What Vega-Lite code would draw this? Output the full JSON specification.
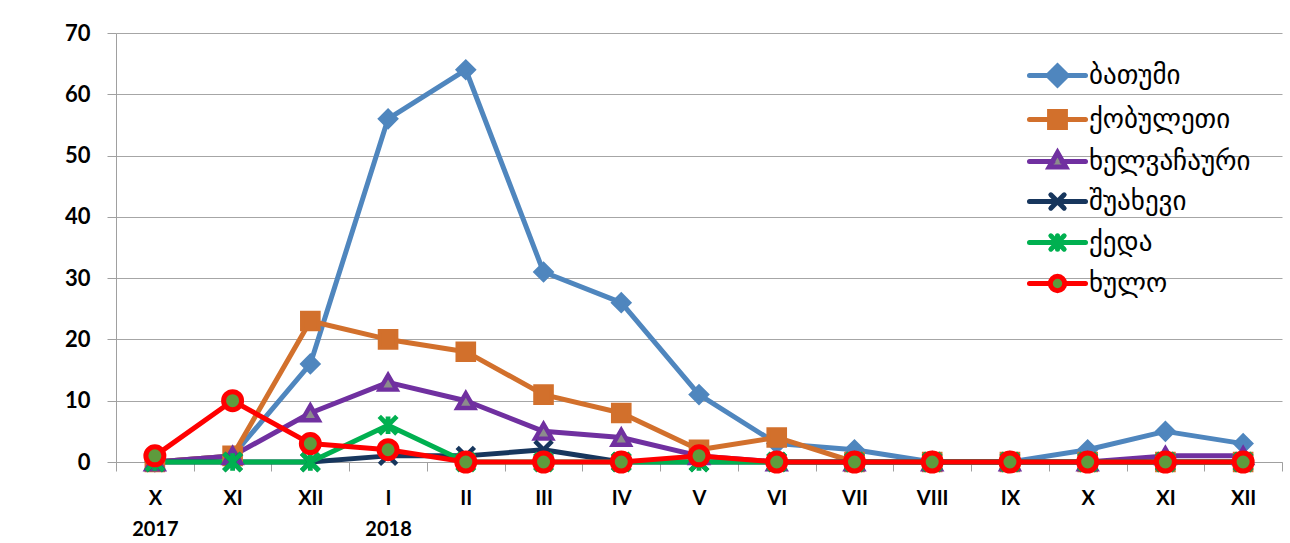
{
  "$schema": "https://vega.github.io/schema/vega-lite/v6.json",
  "width": 1166,
  "height": 429,
  "autosize": {"type": "none"},
  "padding": {"left": 116, "top": 33, "right": 8, "bottom": 81},
  "background": "white",
  "config": {"view": {"stroke": null}, "font": "Lato"},
  "data": {"values": [
    {"s":"ბათუმი","m":"X-2017","v":0},{"s":"ბათუმი","m":"XI-2017","v":1},{"s":"ბათუმი","m":"XII-2017","v":16},{"s":"ბათუმი","m":"I-2018","v":56},{"s":"ბათუმი","m":"II-2018","v":64},{"s":"ბათუმი","m":"III-2018","v":31},{"s":"ბათუმი","m":"IV-2018","v":26},{"s":"ბათუმი","m":"V-2018","v":11},{"s":"ბათუმი","m":"VI-2018","v":3},{"s":"ბათუმი","m":"VII-2018","v":2},{"s":"ბათუმი","m":"VIII-2018","v":0},{"s":"ბათუმი","m":"IX-2018","v":0},{"s":"ბათუმი","m":"X-2018","v":2},{"s":"ბათუმი","m":"XI-2018","v":5},{"s":"ბათუმი","m":"XII-2018","v":3},
    {"s":"ქობულეთი","m":"X-2017","v":0},{"s":"ქობულეთი","m":"XI-2017","v":1},{"s":"ქობულეთი","m":"XII-2017","v":23},{"s":"ქობულეთი","m":"I-2018","v":20},{"s":"ქობულეთი","m":"II-2018","v":18},{"s":"ქობულეთი","m":"III-2018","v":11},{"s":"ქობულეთი","m":"IV-2018","v":8},{"s":"ქობულეთი","m":"V-2018","v":2},{"s":"ქობულეთი","m":"VI-2018","v":4},{"s":"ქობულეთი","m":"VII-2018","v":0},{"s":"ქობულეთი","m":"VIII-2018","v":0},{"s":"ქობულეთი","m":"IX-2018","v":0},{"s":"ქობულეთი","m":"X-2018","v":0},{"s":"ქობულეთი","m":"XI-2018","v":0},{"s":"ქობულეთი","m":"XII-2018","v":0},
    {"s":"ხელვაჩაური","m":"X-2017","v":0},{"s":"ხელვაჩაური","m":"XI-2017","v":1},{"s":"ხელვაჩაური","m":"XII-2017","v":8},{"s":"ხელვაჩაური","m":"I-2018","v":13},{"s":"ხელვაჩაური","m":"II-2018","v":10},{"s":"ხელვაჩაური","m":"III-2018","v":5},{"s":"ხელვაჩაური","m":"IV-2018","v":4},{"s":"ხელვაჩაური","m":"V-2018","v":1},{"s":"ხელვაჩაური","m":"VI-2018","v":0},{"s":"ხელვაჩაური","m":"VII-2018","v":0},{"s":"ხელვაჩაური","m":"VIII-2018","v":0},{"s":"ხელვაჩაური","m":"IX-2018","v":0},{"s":"ხელვაჩაური","m":"X-2018","v":0},{"s":"ხელვაჩაური","m":"XI-2018","v":1},{"s":"ხელვაჩაური","m":"XII-2018","v":1},
    {"s":"შუახევი","m":"X-2017","v":0},{"s":"შუახევი","m":"XI-2017","v":0},{"s":"შუახევი","m":"XII-2017","v":0},{"s":"შუახევი","m":"I-2018","v":1},{"s":"შუახევი","m":"II-2018","v":1},{"s":"შუახევი","m":"III-2018","v":2},{"s":"შუახევი","m":"IV-2018","v":0},{"s":"შუახევი","m":"V-2018","v":0},{"s":"შუახევი","m":"VI-2018","v":0},{"s":"შუახევი","m":"VII-2018","v":0},{"s":"შუახევი","m":"VIII-2018","v":0},{"s":"შუახევი","m":"IX-2018","v":0},{"s":"შუახევი","m":"X-2018","v":0},{"s":"შუახევი","m":"XI-2018","v":0},{"s":"შუახევი","m":"XII-2018","v":0},
    {"s":"ქედა","m":"X-2017","v":0},{"s":"ქედა","m":"XI-2017","v":0},{"s":"ქედა","m":"XII-2017","v":0},{"s":"ქედა","m":"I-2018","v":6},{"s":"ქედა","m":"II-2018","v":0},{"s":"ქედა","m":"III-2018","v":0},{"s":"ქედა","m":"IV-2018","v":0},{"s":"ქედა","m":"V-2018","v":0},{"s":"ქედა","m":"VI-2018","v":0},{"s":"ქედა","m":"VII-2018","v":0},{"s":"ქედა","m":"VIII-2018","v":0},{"s":"ქედა","m":"IX-2018","v":0},{"s":"ქედა","m":"X-2018","v":0},{"s":"ქედა","m":"XI-2018","v":0},{"s":"ქედა","m":"XII-2018","v":0},
    {"s":"ხულო","m":"X-2017","v":1},{"s":"ხულო","m":"XI-2017","v":10},{"s":"ხულო","m":"XII-2017","v":3},{"s":"ხულო","m":"I-2018","v":2},{"s":"ხულო","m":"II-2018","v":0},{"s":"ხულო","m":"III-2018","v":0},{"s":"ხულო","m":"IV-2018","v":0},{"s":"ხულო","m":"V-2018","v":1},{"s":"ხულო","m":"VI-2018","v":0},{"s":"ხულო","m":"VII-2018","v":0},{"s":"ხულო","m":"VIII-2018","v":0},{"s":"ხულო","m":"IX-2018","v":0},{"s":"ხულო","m":"X-2018","v":0},{"s":"ხულო","m":"XI-2018","v":0},{"s":"ხულო","m":"XII-2018","v":0}
  ]},
  "encoding": {
    "x": {
      "field": "m", "type": "ordinal",
      "sort": ["X-2017","XI-2017","XII-2017","I-2018","II-2018","III-2018","IV-2018","V-2018","VI-2018","VII-2018","VIII-2018","IX-2018","X-2018","XI-2018","XII-2018"],
      "scale": {"type": "band", "paddingInner": 0, "paddingOuter": 0},
      "axis": {
        "title": null, "tickBand": "extent", "grid": false,
        "domainColor": "#A0A0A0", "tickColor": "#A0A0A0", "tickSize": 9,
        "labelPadding": 17, "labelFontSize": 20, "labelFontWeight": "bold", "labelColor": "black",
        "labelAngle": 0, "labelLineHeight": 31, "labelBaseline": "top",
        "labelExpr": "!isString(datum.value) ? '' : datum.value == 'X-2017' ? ['X', '2017'] : datum.value == 'I-2018' ? ['I', '2018'] : split(datum.value, '-')[0]"
      }
    },
    "y": {
      "field": "v", "type": "quantitative",
      "scale": {"domain": [0, 70], "nice": false},
      "axis": {
        "title": null, "values": [0, 10, 20, 30, 40, 50, 60, 70], "grid": true,
        "gridColor": "#A6A6A6", "domainColor": "#A0A0A0", "tickColor": "#A0A0A0", "tickSize": 9,
        "labelPadding": 17, "labelFontSize": 22, "labelFontWeight": "bold", "labelColor": "black"
      }
    }
  },
  "layer": [
    {
      "mark": {"type": "line", "strokeWidth": 5, "strokeJoin": "round", "strokeCap": "round"},
      "encoding": {
        "color": {
          "field": "s", "type": "nominal",
          "scale": {
            "domain": ["ბათუმი","ქობულეთი","ხელვაჩაური","შუახევი","ქედა","ხულო"],
            "range": ["#4F86BE","#D2702C","#7030A0","#17365D","#00B050","#FF0000"]
          },
          "legend": {
            "title": null, "orient": "none", "legendX": 921, "legendY": 22,
            "padding": 0, "labelFont": "DejaVu Sans", "labelFontSize": 27, "labelColor": "black",
            "labelLimit": 400, "labelOffset": 11, "symbolSize": 1296, "symbolStrokeWidth": 5, "rowPadding": 3,
            "encode": {
              "symbols": {
                "update": {
                  "shape": {"signal": "datum.value === 'ბათუმი' ? 'M-1.556,0L1.556,0M0,-0.53L0.53,0L0,0.53L-0.53,0Z' : datum.value === 'ქობულეთი' ? 'M-1.556,0L1.556,0M-0.44,-0.44L0.44,-0.44L0.44,0.44L-0.44,0.44Z' : datum.value === 'ხელვაჩაური' ? 'M-1.556,0L-0.25,0M0.25,0L1.556,0M0,-0.5L0.46,0.31L-0.46,0.31Z' : datum.value === 'შუახევი' ? 'M-1.556,0L1.556,0M-0.37,-0.37L0.37,0.37M0.37,-0.37L-0.37,0.37' : datum.value === 'ქედა' ? 'M-1.556,0L1.556,0M-0.37,-0.37L0.37,0.37M0.37,-0.37L-0.37,0.37M0,-0.37L0,0.37' : 'M-1.556,0L-0.4,0M0.4,0L1.556,0M0.4,0A0.4,0.4 0 1 1 -0.4,0A0.4,0.4 0 1 1 0.4,0Z'"},
                  "fill": {"signal": "datum.value === 'ბათუმი' ? '#4F86BE' : datum.value === 'ქობულეთი' ? '#D2702C' : datum.value === 'ხელვაჩაური' ? '#8C8C8C' : datum.value === 'ხულო' ? '#5E9B3D' : 'transparent'"},
                  "fillOpacity": {"value": 1},
                  "strokeCap": {"value": "round"}
                }
              }
            }
          }
        }
      }
    },
    {
      "mark": {"type": "point", "opacity": 1, "fillOpacity": 1, "strokeOpacity": 1},
      "encoding": {
        "shape": {
          "field": "s", "type": "nominal", "legend": null,
          "scale": {
            "domain": ["ხულო","ქედა","შუახევი","ხელვაჩაური","ქობულეთი","ბათუმი"],
            "range": ["circle","M-1,-1L1,1M1,-1L-1,1M0,-1L0,1","M-1,-1L1,1M1,-1L-1,1","triangle-up","square","diamond"]
          }
        },
        "fill": {
          "field": "s", "type": "nominal", "legend": null,
          "scale": {
            "domain": ["ხულო","ქედა","შუახევი","ხელვაჩაური","ქობულეთი","ბათუმი"],
            "range": ["#5E9B3D","transparent","transparent","#8C8C8C","#D2702C","#4F86BE"]
          }
        },
        "stroke": {
          "field": "s", "type": "nominal", "legend": null,
          "scale": {
            "domain": ["ხულო","ქედა","შუახევი","ხელვაჩაური","ქობულეთი","ბათუმი"],
            "range": ["#FF0000","#00B050","#17365D","#7030A0","#D2702C","#4F86BE"]
          }
        },
        "strokeWidth": {
          "field": "s", "type": "nominal", "legend": null,
          "scale": {
            "domain": ["ხულო","ქედა","შუახევი","ხელვაჩაური","ქობულეთი","ბათუმი"],
            "range": [5, 4, 5, 4, 2, 2]
          }
        },
        "size": {
          "field": "s", "type": "nominal", "legend": null,
          "scale": {
            "domain": ["ხულო","ქედა","შუახევი","ხელვაჩაური","ქობულეთი","ბათუმი"],
            "range": [324, 256, 289, 400, 441, 400]
          }
        }
      }
    }
  ]
}
